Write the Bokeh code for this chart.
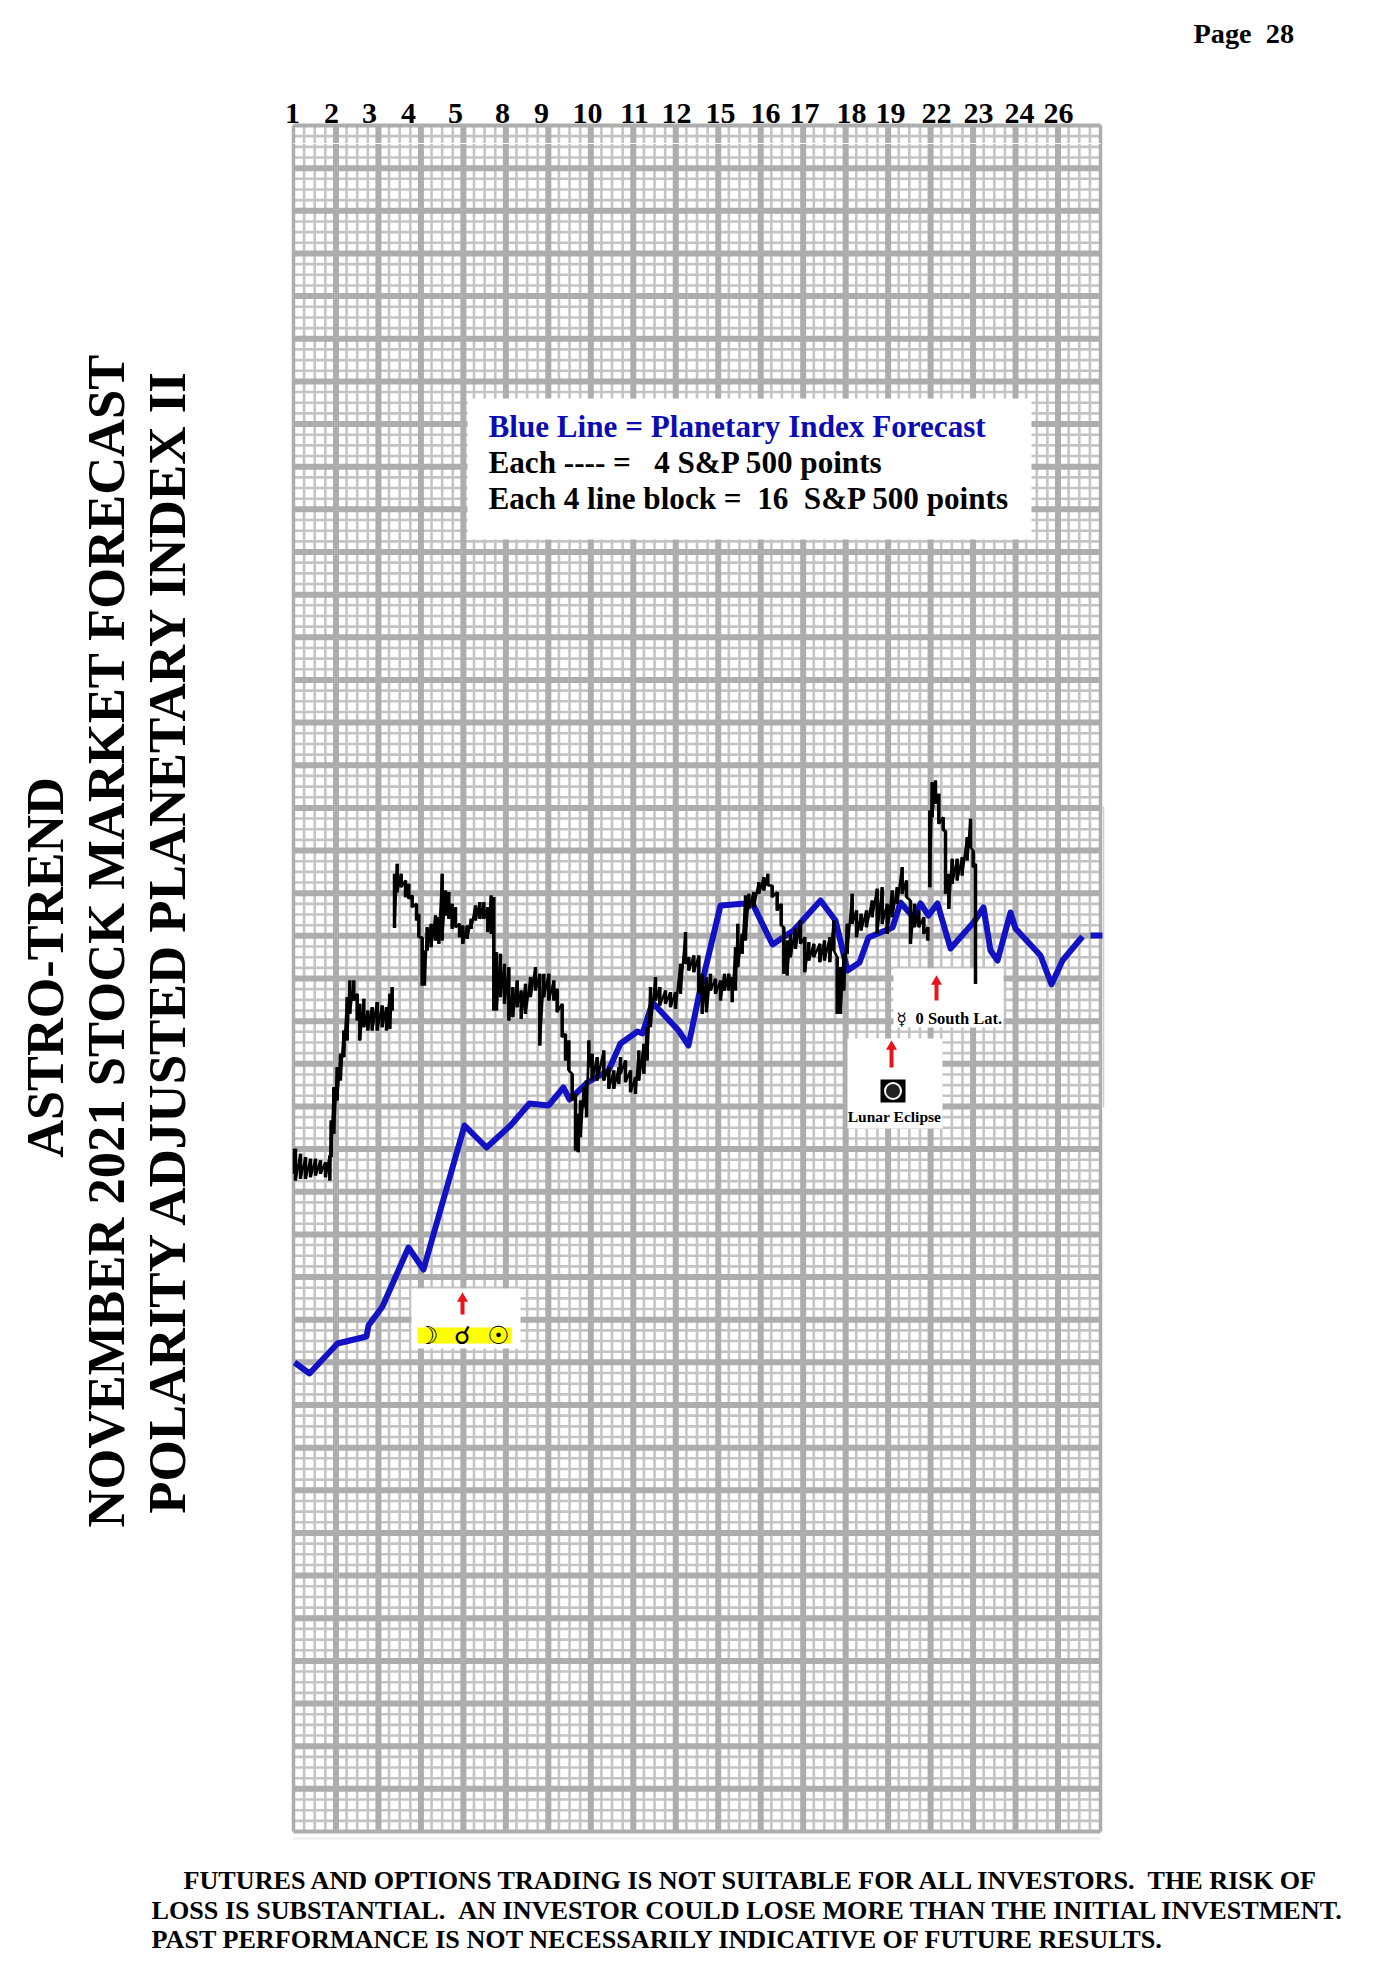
import numpy as np
from bokeh.plotting import figure
from bokeh.models import Range1d
from bokeh.core.properties import value
from bokeh.embed import file_html
from bokeh.resources import INLINE

NB = "\u00a0"
day_labels = ["1","2","3","4","5","8","9","10","11","12","15","16","17","18","19","22","23","24","26"]
day_label_pos = [292,331,369,408,455,502,541,587,634,676,720,765,804,851,890,936,978,1019,1058]

# Planetary index forecast (chart units; 1 block = 42.6 units = 16 S&P points)
blue_x = [1,16,44,73,75,89,115,130,171,193,217,236,255,270,276,294,315,327,344,349,359,385,395,405,427,452,459,479,500,
          527,542,554,566,575,599,607,620,627,635,644,657,680,690,697,704,717,722,747,758,769,789]
blue_y = [469,458,488,495,506,525,584,562,706,684,706,728,726,744,732,749,761,788,800,798,829,801,786,834,926,928,928,887,901,
          931,911,861,869,894,904,929,914,928,916,928,883,909,924,881,871,919,903,876,847,871,895]
blue_tail_x = [797,809]
blue_tail_y = [896,896]

# S&P price, high/low readings
a_pos = [42,45,60,75,90,105,120,135,148,152,160,170,180,190,200,208,220,230,238,250,262,275,290,305,318,328,335]
a_high = [925,925,940,950,955,955,960,965,945,840,740,680,640,570,470,420,420,460,490,475,510,500,485,495,500,460,440]
a_low = [1000,1020,1015,1015,1010,1005,1000,1010,1020,950,880,780,720,650,600,520,480,540,600,560,570,570,570,560,570,565,510]

b1_pos = [342,350,362,375,385,395,408,415,425,432,440,452,465,475,485,495,505,515,525,537,547,560,572,585,598,610,622,632,640,
          648,660,672,685,697,710,722,735,750,765,778,790,805,820,830,845,855,865,875,885,893,900,910,918,925,935,950,970,985,1000,1015]
b1_high = [100,70,100,120,130,165,190,220,290,330,260,250,225,230,100,150,155,190,200,250,255,255,235,195,185,185,200,165,170,
           335,340,370,380,440,420,450,430,410,380,400,400,400,420,445,490,580,600,700,760,820,780,740,720,600,640,650,630,680,690,680]
b1_low = [262,155,140,170,175,200,240,290,435,435,330,320,300,310,300,225,235,265,260,290,310,295,265,240,235,235,275,280,510,
          510,470,490,540,530,500,535,520,470,450,615,470,480,480,515,590,660,690,780,930,935,890,800,830,680,720,720,720,745,745,730]

b2_pos = [0,15,30,45,55,70,80,90,105,118,135,150,165,180,195,205,220,235,245,258,270,285,300,312,325,335,345,352,365,375,385,400,
          415,430,442,455,470,482,490,500,510,525,540,553,565,580,598,612,628,640,650,660,670,680,695,708,722,738,755,770,785,800,
          815,830,845,858,870,882,895,910,922]
b2_high = [890,900,930,950,870,850,800,680,650,680,690,695,695,610,515,590,585,585,640,650,640,655,660,640,640,650,560,490,520,405,400,395,
           365,350,340,375,395,430,500,540,520,505,480,530,545,550,550,540,530,480,590,620,580,490,400,450,460,450,420,385,380,430,
           390,380,320,360,420,430,450,470,500]
b2_low = [940,965,995,1000,960,940,900,800,720,735,730,740,745,700,610,630,635,700,760,755,690,700,720,690,690,725,690,620,580,540,445,440,
          400,390,375,410,450,495,640,645,590,565,550,635,600,590,605,600,605,570,760,760,690,580,490,530,510,500,470,520,490,520,
          470,430,400,410,550,500,500,520,540]

c_pos = [928,935,945,955,968,975,985,995,1010,1025,1040,1050,1058,1065]
c_high = [150,65,60,100,170,210,340,295,295,290,230,175,270,310]
c_low = [380,170,130,190,210,400,445,370,360,345,300,260,320,670]

title_lines = ["ASTRO-TREND","NOVEMBER 2021 STOCK MARKET FORECAST","POLARITY ADJUSTED PLANETARY INDEX II"]
legend_lines = ["Blue Line = Planetary Index Forecast",
                f"Each ---- ={NB}{NB}{NB}4 S&P 500 points",
                f"Each 4 line block ={NB}{NB}16{NB}{NB}S&P 500 points"]
footer_lines = [f"FUTURES AND OPTIONS TRADING IS NOT SUITABLE FOR ALL INVESTORS.{NB}{NB}THE RISK OF",
                f"LOSS IS SUBSTANTIAL.{NB}{NB}AN INVESTOR COULD LOSE MORE THAN THE INITIAL INVESTMENT.",
                "PAST PERFORMANCE IS NOT NECESSARILY INDICATIVE OF FUTURE RESULTS."]

X = lambda px: px - 293
Y = lambda py: 1831 - py
GRAY, GRAY2 = "#adadad", "#c4c4c4"
SERIF = "Liberation Serif"
BLUE = "#1212c4"

p = figure(width=1361, height=1972, output_backend="svg", toolbar_location=None,
           x_range=Range1d(X(0), X(1361)), y_range=Range1d(Y(1972), Y(0)), min_border=0,
           outline_line_color=None, background_fill_color="white", border_fill_color="white")
p.axis.visible = False
p.grid.visible = False

def txt(px, py, s, size, color="black", bold=True, align="left", angle=0, base="middle", font=SERIF):
    p.text([X(px)], [Y(py)], text=[s], text_font=value(font), text_font_size=value(f"{size}px"),
           text_font_style="bold" if bold else "normal", text_color=color, text_align=align,
           text_baseline=base, angle=angle)

def box(x0, y0, x1, y1, color="white"):
    p.quad(left=[X(x0)], right=[X(x1)], top=[Y(y0)], bottom=[Y(y1)], fill_color=color, line_color=None)

def arrow(px, y0, y1):
    p.line([X(px), X(px)], [Y(y0+8), Y(y1)], line_color="#e8141c", line_width=4)
    p.scatter([X(px)], [Y(y0+6)], marker="triangle", size=11, fill_color="#e8141c", line_color=None)

# grid
W, H = 807.0, 1706.0
NX, NY = 19, 40
minor_x = [v for v in np.linspace(0, W, NX*4+1)]
minor_y = [v for v in np.linspace(0, H, NY*4+1)]
p.segment(minor_x, 0, minor_x, H, line_color=GRAY2, line_width=2.6)
p.segment(0, minor_y, W, minor_y, line_color=GRAY2, line_width=2.6)
major_x = [v for v in np.linspace(0, W, NX+1)][1:-1]
major_y = [v for v in np.linspace(0, H, NY+1)][1:-1]
p.segment(major_x, 0, major_x, H, line_color=GRAY, line_width=6)
p.segment(0, major_y, W, major_y, line_color=GRAY, line_width=6)
# outer frame
p.segment([0, W], 0, [0, W], H, line_color=GRAY, line_width=3.5)
p.segment(0, [0, H], W, [0, H], line_color=GRAY, line_width=4)
p.segment([0], [Y(143)], [W], [Y(143)], line_color="white", line_width=1.2)
p.segment([0], [Y(1838)], [W], [Y(1838)], line_color="#ececec", line_width=2)
p.segment([X(1103)], [Y(806)], [X(1103)], [Y(1107)], line_color="#d0d0d0", line_width=1.5)

# legend box
box(467, 398, 1031, 539)
txt(488, 426, legend_lines[0], 31.15, color="#0c0cb4")
txt(488, 462, legend_lines[1], 31.15)
txt(488, 498, legend_lines[2], 31.15)

# annotation boxes
box(411, 1288, 520, 1348)
box(417, 1327, 511, 1343, "#ffff00")
arrow(462, 1292, 1314)
for gx, g in zip([427, 462, 498], ["\u263d", "\u260c", "\u2609"]):
    txt(gx, 1335, g, 25, align="center", font="DejaVu Sans")

box(847, 1038, 942, 1128)
arrow(891, 1040, 1067)
box(880, 1079, 905, 1102, "black")
p.scatter([X(892.5)], [Y(1090.5)], marker="circle", size=16, fill_color="#222222", line_color="white", line_width=2)
txt(894, 1116, "Lunar Eclipse", 15.5, align="center")

box(893, 968, 1003, 1027)
arrow(936, 975, 1000)
txt(901, 1018, "\u263f", 17, align="center", font="DejaVu Sans")
txt(915, 1018, "0 South Lat.", 16.5)

# blue line
p.line(blue_x, blue_y, line_color=BLUE, line_width=6, line_join="round")
p.line(blue_tail_x, blue_tail_y, line_color=BLUE, line_width=6)

# black price line: readings off the crops, calibrated to chart units
def price(xs, hi, lo):
    p.segment(xs, hi, xs, lo, line_color="black", line_width=3.5)
    p.line(np.repeat(xs, 2), np.column_stack([hi, lo]).ravel(), line_color="black", line_width=2.5)

price(np.array(a_pos)/3 - 13, 991 - np.array(a_high)/3, 991 - np.array(a_low)/3)
price(np.concatenate([np.array(b1_pos)/3 - 13, np.array(b2_pos)/3 + 327]),
      np.concatenate([991 - np.array(b1_high)/3, 1071 - np.array(b2_high)/3]),
      np.concatenate([991 - np.array(b1_low)/3, 1071 - np.array(b2_low)/3]))
price(np.array(c_pos)/3 + 327, 1071 - np.array(c_high)/3, 1071 - np.array(c_low)/3)

# day labels
for lab, px in zip(day_labels, day_label_pos):
    txt(px, 113, lab, 30, align="center")

# page number
txt(1193, 33, f"Page{NB}{NB}28", 28.3)

# side titles
txt(44, 967, title_lines[0], 52.3, align="center", angle=np.pi/2)
txt(105, 940, title_lines[1], 52.6, align="center", angle=np.pi/2)
txt(166, 939, title_lines[2], 53, align="center", angle=np.pi/2)

# footer
txt(183, 1880, footer_lines[0], 26.15)
txt(151, 1910, footer_lines[1], 26.15)
txt(151, 1939, footer_lines[2], 26.15)

open("out.html", "w").write(file_html(p, INLINE))
